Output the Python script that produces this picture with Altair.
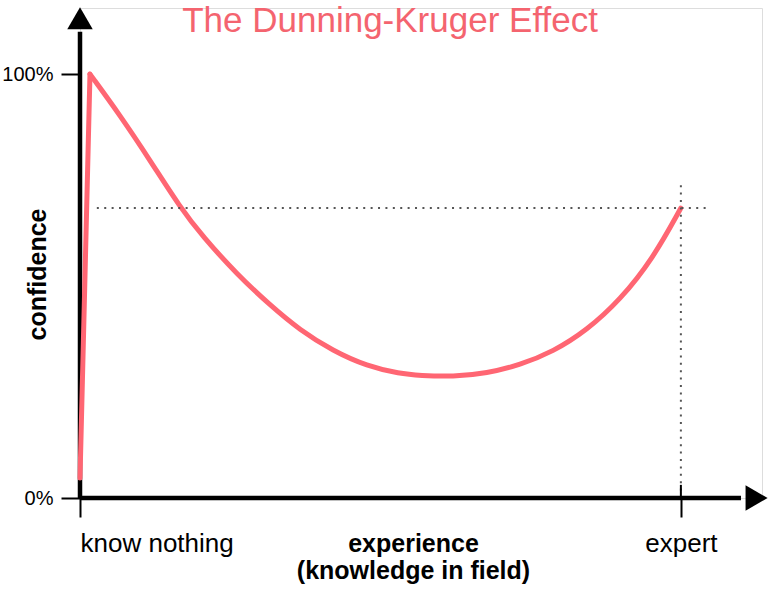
import altair as alt
import pandas as pd

# rise from nothing to the peak (experience %, confidence %)
rise_experience = [0, 1.66]
rise_confidence = [4.7, 100]

# fall and recovery after the peak (experience %, confidence %)
experience = [1.66, 6.66, 11.65, 16.64, 20.47, 26.13, 31.62, 36.61, 42.10, 47.76,
              53.25, 56.58, 62.07, 67.73, 73.22, 78.71, 84.37, 89.87, 95.36, 100]
confidence = [100, 90.3, 79.7, 68.6, 61.6, 52.8, 45.5, 39.6, 34.7, 31.1,
              29.3, 28.9, 28.6, 29.4, 31.4, 34.5, 39.6, 46.7, 56.5, 68.4]

y_ticks = [0, 100]
x_ticks = [0, 100]
x_labels = ["know nothing", "expert"]

title_text = ["The Dunning-Kruger Effect"]
title_x = [51.6]
title_y = [109.9]

# reference lines
expert_level = [68.4]
h_ref_x = [2.8]
h_ref_x2 = [104.8]
v_ref_x = [100]
v_ref_y2 = [75.0]

# axis arrows
axis_end = [110]
x_arrow_pos = [112.6]
y_arrow_pos = [113.2]
expert_tick_top = [3.1]

X_DOMAIN = [0, 113.5]
Y_DOMAIN = [0, 115.6]

RED = "#FF6673"
TITLE_RED = "#F4646F"
FONT = "Liberation Sans"

xs = alt.Scale(domain=X_DOMAIN, nice=False, zero=False)
ys = alt.Scale(domain=Y_DOMAIN, nice=False, zero=False)

rise_df = pd.DataFrame({"experience": rise_experience, "confidence": rise_confidence})
curve_df = pd.DataFrame({"experience": experience, "confidence": confidence})

label_expr = "datum.value == 0 ? '" + x_labels[0] + "' : '" + x_labels[1] + "'"

curve = alt.Chart(curve_df).mark_line(
    color=RED, strokeWidth=5, interpolate="basis", strokeCap="round"
).encode(
    x=alt.X("experience:Q", scale=xs,
            axis=alt.Axis(values=x_ticks, labelExpr=label_expr, domain=False, grid=False,
                          ticks=True, tickSize=19, tickWidth=2, tickColor="black",
                          labelFont=FONT, labelFontSize=26, labelColor="black",
                          labelPadding=13,
                          labelAlign={"condition": {"test": "datum.value == 0", "value": "left"},
                                      "value": "center"},
                          labelBaseline="top",
                          title=["experience", "(knowledge in field)"],
                          titleFont=FONT, titleFontSize=25, titleFontWeight="bold",
                          titleColor="black", titleLineHeight=27,
                          titleAnchor="start", titleAlign="center", titleBaseline="alphabetic",
                          titleX=333, titleY=53)),
    y=alt.Y("confidence:Q", scale=ys,
            axis=alt.Axis(values=y_ticks, labelExpr="datum.value + '%'", domain=False, grid=False,
                          ticks=True, tickSize=19, tickWidth=2, tickColor="black",
                          labelFont=FONT, labelFontSize=20, labelColor="black",
                          labelPadding=8,
                          title="confidence", titleFont=FONT, titleFontSize=25,
                          titleFontWeight="bold", titleColor="black",
                          titleAngle=270, titleAlign="center", titleBaseline="middle",
                          titleX=-43, titleY=266)),
)

rise = alt.Chart(rise_df).mark_line(
    color=RED, strokeWidth=5, strokeCap="round"
).encode(
    x=alt.X("experience:Q", scale=xs),
    y=alt.Y("confidence:Q", scale=ys),
)

title = alt.Chart(pd.DataFrame({"x": title_x, "y": title_y, "t": title_text})).mark_text(
    font=FONT, fontSize=35, color=TITLE_RED, align="center", baseline="alphabetic"
).encode(x=alt.X("x:Q", scale=xs), y=alt.Y("y:Q", scale=ys), text="t:N")

h_ref = alt.Chart(pd.DataFrame({"x": h_ref_x, "x2": h_ref_x2, "y": expert_level})).mark_rule(
    color="#555555", strokeWidth=2, strokeDash=[2, 5.4]
).encode(x=alt.X("x:Q", scale=xs), x2="x2:Q", y=alt.Y("y:Q", scale=ys))

v_ref = alt.Chart(pd.DataFrame({"x": v_ref_x, "y": [0], "y2": v_ref_y2})).mark_rule(
    color="#555555", strokeWidth=2, strokeDash=[2, 5.4]
).encode(x=alt.X("x:Q", scale=xs), y=alt.Y("y:Q", scale=ys), y2="y2:Q")

expert_tick = alt.Chart(pd.DataFrame({"x": v_ref_x, "y": [0], "y2": expert_tick_top})).mark_rule(
    color="black", strokeWidth=2
).encode(x=alt.X("x:Q", scale=xs), y=alt.Y("y:Q", scale=ys), y2="y2:Q")

x_axis_line = alt.Chart(pd.DataFrame({"x": [0], "x2": axis_end, "y": [0]})).mark_rule(
    color="black", strokeWidth=4.5
).encode(x=alt.X("x:Q", scale=xs), x2="x2:Q", y=alt.Y("y:Q", scale=ys))

y_axis_line = alt.Chart(pd.DataFrame({"x": [0], "y": [0], "y2": axis_end})).mark_rule(
    color="black", strokeWidth=4.5
).encode(x=alt.X("x:Q", scale=xs), y=alt.Y("y:Q", scale=ys), y2="y2:Q")

x_arrow = alt.Chart(pd.DataFrame({"x": x_arrow_pos, "y": [0]})).mark_point(
    shape="triangle-right", size=650, filled=True, color="black", opacity=1
).encode(x=alt.X("x:Q", scale=xs), y=alt.Y("y:Q", scale=ys))

y_arrow = alt.Chart(pd.DataFrame({"x": [0], "y": y_arrow_pos})).mark_point(
    shape="triangle-up", size=650, filled=True, color="black", opacity=1
).encode(x=alt.X("x:Q", scale=xs), y=alt.Y("y:Q", scale=ys))

chart = alt.layer(
    curve, h_ref, v_ref, x_axis_line, y_axis_line, expert_tick, x_arrow, y_arrow, rise, title
).properties(
    width=682, height=490,
    autosize="none",
    padding={"left": 80, "top": 8, "right": 6, "bottom": 92},
).configure_view(stroke=None).configure(background="white")

chart.save("out.html", embed_options={"renderer": "svg", "actions": False})
